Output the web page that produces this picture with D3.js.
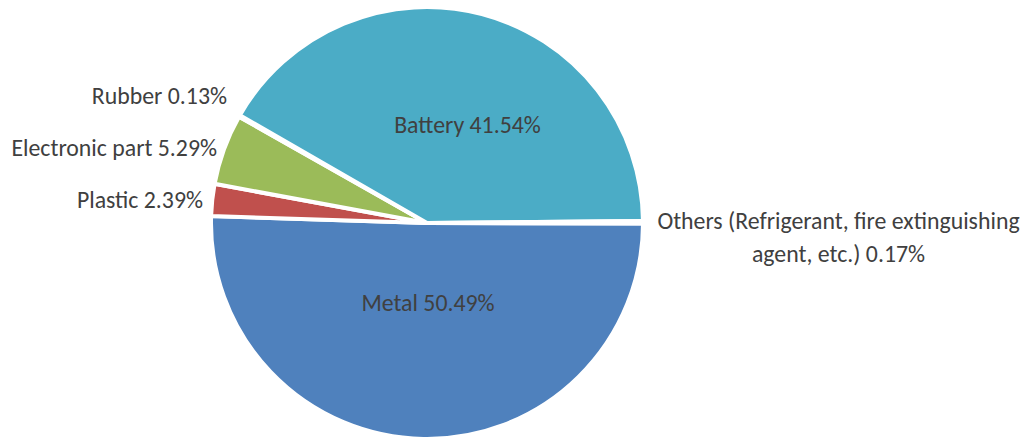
<!DOCTYPE html>
<html>
<head>
<meta charset="utf-8">
<script src="https://cdn.jsdelivr.net/npm/d3@7"></script>
<style>
  html, body { margin: 0; padding: 0; background: #ffffff; }
  svg { display: block; }
  text { font-family: Carlito, Lato, "Liberation Sans", sans-serif; fill: #404040; }
</style>
</head>
<body>
<svg id="chart" width="1030" height="439"></svg>
<script>
// ---- data ----
const categories = ["Metal", "Plastic", "Electronic part", "Rubber", "Battery", "Others (Refrigerant, fire extinguishing agent, etc.)"];
const values = [50.49, 2.39, 5.29, 0.13, 41.54, 0.17];
const valueLabels = ["50.49%", "2.39%", "5.29%", "0.13%", "41.54%", "0.17%"];
const colors = ["#4F81BD", "#C0504D", "#9BBB59", "#F79646", "#4BACC6", "#8064A2"];

// ---- layout ----
const W = 1030, H = 439;
const cx = 427, cy = 223, R = 216;
const startDeg = 90.1;
const fontSize = 23.8;

// label anchor positions [x, baseline y, anchor]
const labelPos = [
  [428, 310.5, "middle"],
  [203, 208.3, "end"],
  [217, 156, "end"],
  [227, 104, "end"],
  [467.5, 133.3, "middle"],
  [838.5, 229, "middle"]
];

const svg = d3.select("#chart");
const g = svg.append("g").attr("transform", `translate(${cx},${cy})`);

const start = startDeg * Math.PI / 180;
const pie = d3.pie().sort(null).value(d => d)
  .startAngle(start).endAngle(start + 2 * Math.PI);
const arcs = pie(values);
const arc = d3.arc().innerRadius(0).outerRadius(R);

g.selectAll("path.slice")
  .data(arcs)
  .enter().append("path")
  .attr("class", "slice")
  .attr("d", arc)
  .attr("fill", (d, i) => colors[i])
  .attr("stroke", "#ffffff")
  .attr("stroke-width", 4)
  .attr("stroke-linejoin", "miter");

// labels
const labels = svg.append("g");
categories.forEach((c, i) => {
  const [x, y, anchor] = labelPos[i];
  const t = labels.append("text")
    .attr("x", x).attr("y", y)
    .attr("text-anchor", anchor)
    .style("font-size", fontSize + "px");
  if (i === 5) {
    t.append("tspan").attr("x", x).text("Others (Refrigerant, fire extinguishing");
    t.append("tspan").attr("x", x).attr("dy", 33).text("agent, etc.) " + valueLabels[i]);
  } else {
    t.text(c + " " + valueLabels[i]);
  }
});
</script>
</body>
</html>
